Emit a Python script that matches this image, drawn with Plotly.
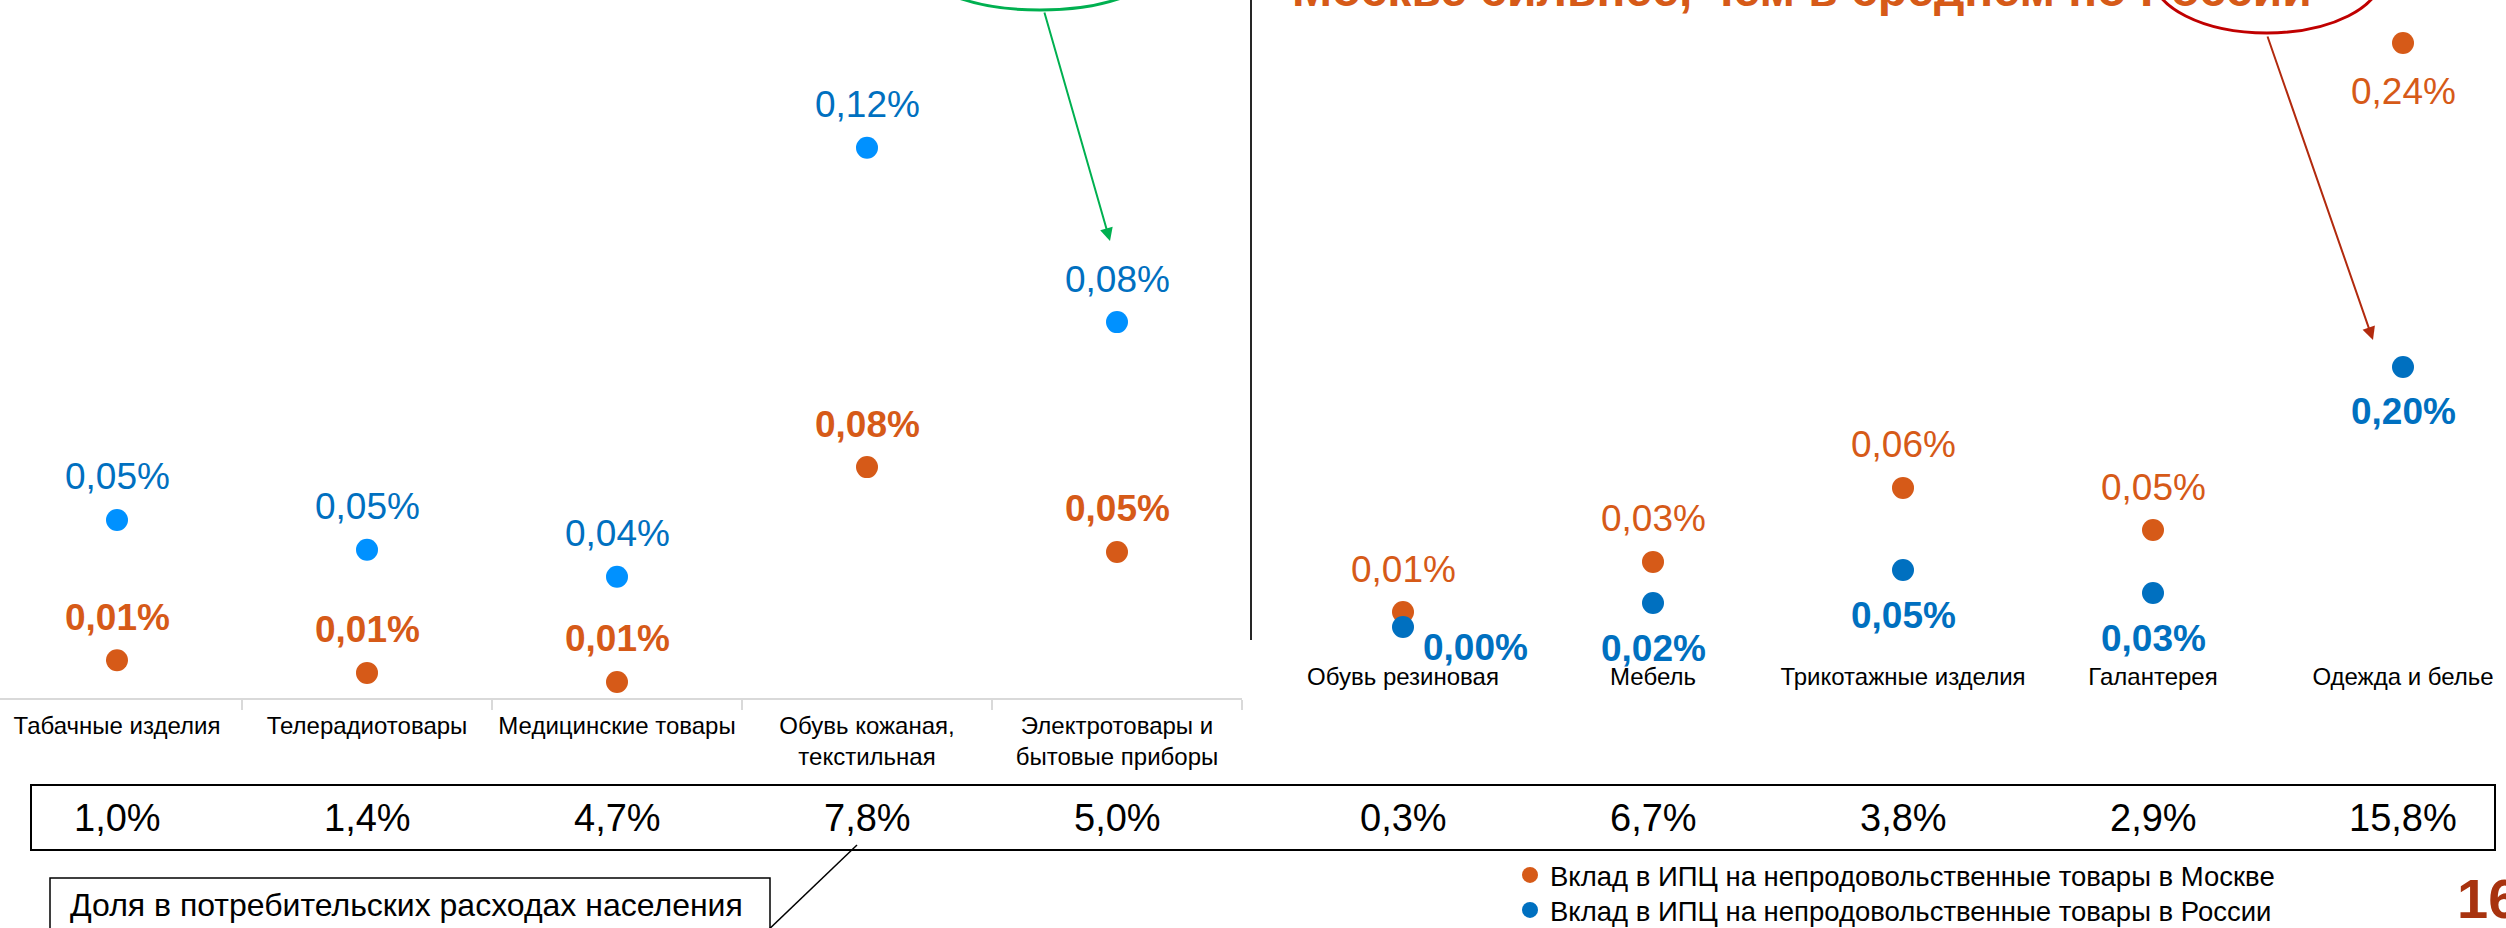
import plotly.graph_objects as go

# ---------------- data ----------------
left_categories = ["Табачные изделия", "Телерадиотовары", "Медицинские товары",
                   "Обувь кожаная,<br>текстильная", "Электротовары и<br>бытовые приборы"]
left_moscow = [0.0148, 0.0102, 0.0069, 0.0849, 0.0541]   # вклад в ИПЦ, Москва, п.п.
left_russia = [0.0504, 0.0452, 0.0405, 0.1153, 0.0849]   # вклад в ИПЦ, Россия, п.п.
left_share = [1.0, 1.4, 4.7, 7.8, 5.0]                    # доля в расходах, %

right_categories = ["Обувь резиновая", "Мебель", "Трикотажные изделия", "Галантерея", "Одежда и белье"]
right_moscow = [0.0122, 0.0327, 0.0629, 0.0457, 0.2445]
right_russia = [0.0031, 0.0215, 0.0469, 0.0292, 0.2031]
right_share = [0.3, 6.7, 3.8, 2.9, 15.8]

legend_names = ["Вклад в ИПЦ на непродовольственные товары в Москве",
                "Вклад в ИПЦ на непродовольственные товары в России"]
title_tail = "Москве сильнее, чем в среднем по России"
share_caption = "Доля в потребительских расходах населения"
page_number = "16"

# ---------------- styling / layout helpers ----------------
W, H = 2506, 928
FONT = "Liberation Sans, Arial, sans-serif"
ORANGE = "#D65A18"
BLUE_LIGHT = "#0091FF"
BLUE = "#0070C0"
GREEN = "#00B050"
RED = "#C00000"
ARROW_RED = "#B22A0E"
PAGE = "#A8330F"


def px(x):
    return x / W


def py(y):
    return 1 - y / H


def yrange(zero_px, px_per_unit, bottom_px, top_px=0):
    return [(zero_px - bottom_px) / px_per_unit, (zero_px - top_px) / px_per_unit]


def pct(v, d=2):
    return f"{v:.{d}f}".replace(".", ",") + "%"


LEFT_AXIS_PX = 698
RIGHT_AXIS_PX = 650

fig = go.Figure()

MS = 22
fig.add_trace(go.Scatter(x=left_categories, y=left_moscow, mode="markers", xaxis="x", yaxis="y",
                         marker=dict(size=MS, color=ORANGE), showlegend=False, cliponaxis=False))
fig.add_trace(go.Scatter(x=left_categories, y=left_russia, mode="markers", xaxis="x", yaxis="y2",
                         marker=dict(size=MS, color=BLUE_LIGHT), showlegend=False, cliponaxis=False))
fig.add_trace(go.Scatter(x=right_categories, y=right_moscow, mode="markers", xaxis="x2", yaxis="y3",
                         marker=dict(size=MS, color=ORANGE), name=legend_names[0], cliponaxis=False,
                         legend="legend"))
fig.add_trace(go.Scatter(x=right_categories, y=right_russia, mode="markers", xaxis="x2", yaxis="y4",
                         marker=dict(size=MS, color=BLUE), name=legend_names[1], cliponaxis=False,
                         legend="legend2"))

ann = []
LBL = 37


def label(x, y, xref, yref, text, color, bold, dy, dx=0):
    t = f"<b>{text}</b>" if bold else text
    ann.append(dict(x=x, y=y, xref=xref, yref=yref, text=t, showarrow=False,
                    font=dict(size=LBL, color=color, family=FONT),
                    xanchor="center", yanchor="middle", yshift=dy, xshift=dx))


# left panel labels (above points)
for c, v in zip(left_categories, left_russia):
    label(c, v, "x", "y2", pct(v), BLUE, False, 43)
for c, v in zip(left_categories, left_moscow):
    label(c, v, "x", "y", pct(v), ORANGE, True, 43)

# right panel labels
below_moscow = {"Одежда и белье"}
side_russia = {"Обувь резиновая"}
for c, v in zip(right_categories, right_moscow):
    label(c, v, "x2", "y3", pct(v), ORANGE, False, -49 if c in below_moscow else 43)
for c, v in zip(right_categories, right_russia):
    if c in side_russia:
        label(c, v, "x2", "y4", pct(v), BLUE, True, -21, 72)
    else:
        label(c, v, "x2", "y4", pct(v), BLUE, True, -45)

# share table values
for c, v in zip(left_categories, left_share):
    ann.append(dict(x=c, y=py(818), xref="x", yref="paper", text=pct(v, 1), showarrow=False,
                    font=dict(size=38, color="#000", family=FONT), xanchor="center", yanchor="middle"))
for c, v in zip(right_categories, right_share):
    ann.append(dict(x=c, y=py(818), xref="x2", yref="paper", text=pct(v, 1), showarrow=False,
                    font=dict(size=38, color="#000", family=FONT), xanchor="center", yanchor="middle"))

# caption, title tail, page number
ann.append(dict(x=px(68), y=py(905), xref="paper", yref="paper", text=share_caption, showarrow=False,
                font=dict(size=32, color="#000", family=FONT), xanchor="left", yanchor="middle"))
ann.append(dict(x=px(1290), y=py(18), xref="paper", yref="paper", text=f"<b>{title_tail}</b>",
                showarrow=False, font=dict(size=48, color=ORANGE, family=FONT),
                xanchor="left", yanchor="bottom"))
ann.append(dict(x=px(2455), y=py(898), xref="paper", yref="paper", text=f"<b>{page_number}</b>",
                showarrow=False, font=dict(size=56, color=PAGE, family=FONT),
                xanchor="left", yanchor="middle"))

# arrows
ann.append(dict(x=px(1110), y=py(241), xref="paper", yref="paper", text="", showarrow=True,
                ax=1044 - 1110, ay=11 - 241, axref="pixel", ayref="pixel",
                arrowhead=2, arrowsize=1.3, arrowwidth=2, arrowcolor=GREEN, standoff=0))
ann.append(dict(x=px(2373), y=py(340), xref="paper", yref="paper", text="", showarrow=True,
                ax=2267 - 2373, ay=35 - 340, axref="pixel", ayref="pixel",
                arrowhead=2, arrowsize=1.3, arrowwidth=2, arrowcolor=ARROW_RED, standoff=0))

shapes = [
    dict(type="line", xref="paper", yref="paper", x0=px(1251), x1=px(1251), y0=py(0), y1=py(640),
         line=dict(color="#262626", width=2)),
    dict(type="rect", xref="paper", yref="paper", x0=px(31), x1=px(2495), y0=py(850), y1=py(785),
         line=dict(color="#000", width=2)),
    dict(type="rect", xref="paper", yref="paper", x0=px(50), x1=px(770), y0=py(945), y1=py(878),
         line=dict(color="#000", width=1.5)),
    dict(type="line", xref="paper", yref="paper", x0=px(763), y0=py(935), x1=px(857), y1=py(845),
         line=dict(color="#000", width=1.5)),
    dict(type="circle", xref="paper", yref="paper", x0=px(930), x1=px(1150), y0=py(10), y1=py(-64),
         line=dict(color=GREEN, width=3)),
    dict(type="circle", xref="paper", yref="paper", x0=px(2152), x1=px(2382), y0=py(33), y1=py(-83),
         line=dict(color=RED, width=3)),
]

legend_style = dict(xanchor="left", yanchor="middle",
                    font=dict(size=27.5, color="#000", family=FONT), bgcolor="rgba(0,0,0,0)",
                    borderwidth=0)

fig.update_layout(
    width=W, height=H, autosize=False,
    margin=dict(l=0, r=0, t=0, b=0, pad=0, autoexpand=False),
    paper_bgcolor="white", plot_bgcolor="white",
    font=dict(family=FONT, color="#000"),
    xaxis=dict(domain=[0, px(1242)], type="category", categoryorder="array",
               categoryarray=left_categories, range=[-0.468, 4.5],
               showline=True, linecolor="#D9D9D9", linewidth=2,
               ticks="outside", tickson="boundaries", ticklen=10, tickcolor="#D9D9D9", tickwidth=2,
               tickfont=dict(size=24, color="#000"), ticklabelstandoff=5,
               showgrid=False, zeroline=False, anchor="y", fixedrange=True),
    yaxis=dict(domain=[py(LEFT_AXIS_PX), 1], range=yrange(701, 2755, LEFT_AXIS_PX),
               visible=False, anchor="x", fixedrange=True),
    yaxis2=dict(overlaying="y", range=yrange(809, 5735, LEFT_AXIS_PX), visible=False,
                anchor="x", fixedrange=True),
    xaxis2=dict(domain=[px(1278), 1], type="category", categoryorder="array",
                categoryarray=right_categories, range=[-0.5, 4.412],
                showline=False, ticks="", showgrid=False, zeroline=False,
                tickfont=dict(size=24, color="#000"), ticklabelstandoff=10,
                anchor="y3", fixedrange=True),
    yaxis3=dict(domain=[py(RIGHT_AXIS_PX), 1], range=yrange(642, 2450, RIGHT_AXIS_PX),
                visible=False, anchor="x2", fixedrange=True),
    yaxis4=dict(overlaying="y3", range=yrange(631, 1300, RIGHT_AXIS_PX), visible=False,
                anchor="x2", fixedrange=True),
    legend=dict(x=px(1510), y=py(875), **legend_style),
    legend2=dict(x=px(1510), y=py(910), **legend_style),
    annotations=ann,
    shapes=shapes,
)

fig.write_html("out.html", config={"displayModeBar": False},
               post_script="document.body.style.margin='0';document.body.style.overflow='hidden';")
